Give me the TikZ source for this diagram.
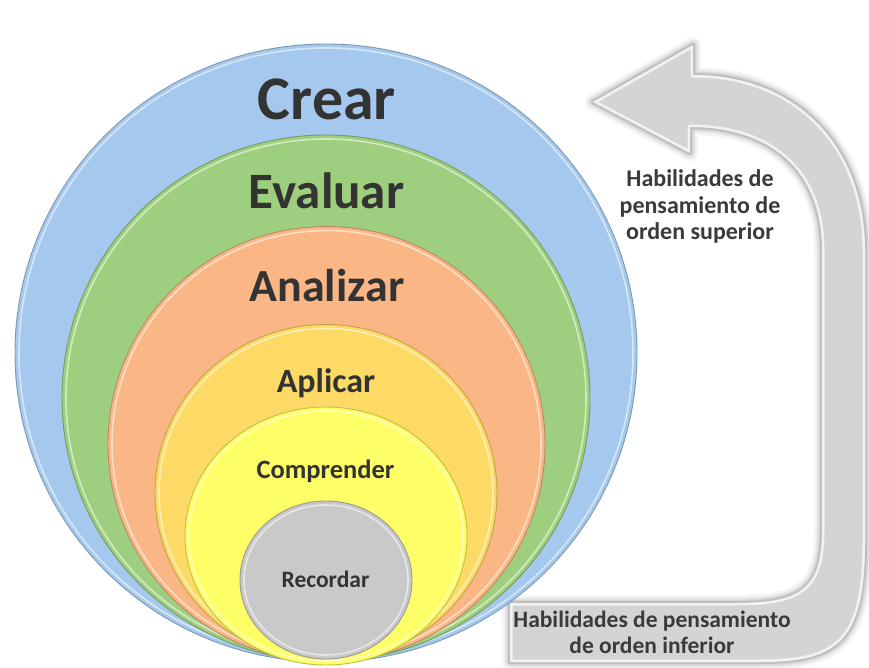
\documentclass[tikz,border=0pt]{standalone}
\usepackage{fontspec}
\setmainfont{Carlito}
\definecolor{cblue}{HTML}{A5C9EE}
\definecolor{cgreen}{HTML}{9DCF7E}
\definecolor{corange}{HTML}{FBB686}
\definecolor{capl}{HTML}{FDDA66}
\definecolor{ccomp}{HTML}{FEFE66}
\definecolor{cgray}{HTML}{C9C9C9}
\definecolor{txt}{HTML}{333333}
\definecolor{sidetxt}{HTML}{3A3A3A}
\definecolor{arrowgray}{HTML}{D4D4D4}
\newcommand\myarrowpath{(593,102) -- (693,45) -- (693,75) .. controls (800,75) and (865,150) .. (865,250) -- (865,540) .. controls (865,640) and (840,662) .. (760,662) -- (510,662) -- (510,603) -- (735,603) .. controls (800,603) and (822,590) .. (822,530) -- (822,250) .. controls (822,170) and (770,127) .. (690,127) -- (690,153) -- cycle}
\begin{document}
\begin{tikzpicture}[x=1pt,y=-1pt,
  lvl/.style={font=\bfseries, text=txt, anchor=base, inner sep=0pt},
  side/.style={font=\bfseries\fontsize{24}{28}\selectfont, text=sidetxt, anchor=base, inner sep=0pt}]
\useasboundingbox (0,0) rectangle (869,668);
% arrow with soft shadow
\foreach \w/\o in {16/0.04,11/0.06,7/0.08,4/0.10}{
  \draw[black, opacity=\o, line width=\w pt, line join=round] \myarrowpath;
}
\fill[arrowgray] \myarrowpath;
\begin{scope}
  \clip \myarrowpath;
  \draw[white, opacity=0.7, line width=5pt, line join=round] \myarrowpath;
\end{scope}
% nested circles
\newcommand\mycircle[4]{%
  \fill[#4] (#1) ellipse [x radius=#2, y radius=#3];
  \draw[#4!75!black, line width=0.9pt] (#1) ellipse [x radius=#2, y radius=#3];
  \draw[white, opacity=0.55, line width=1.6pt] (#1) ellipse [x radius=#2-4, y radius=#3-4];
}
\mycircle{326,353}{311}{309}{cblue}
\mycircle{326,398}{264}{263}{cgreen}
\mycircle{326.5,444}{218.5}{217.5}{corange}
\mycircle{326,493}{171}{168.5}{capl}
\mycircle{326,536}{141}{129}{ccomp}
\mycircle{326,580}{86}{79}{cgray}
% level labels
\node[lvl, font=\bfseries\fontsize{62}{62}\selectfont] (crear) at (327,120) {Crear};
\node[lvl, font=\bfseries\fontsize{51}{51}\selectfont] (evaluar) at (326.5,209) {Evaluar};
\node[lvl, font=\bfseries\fontsize{46}{46}\selectfont] (analizar) at (327,301) {Analizar};
\node[lvl, font=\bfseries\fontsize{34}{34}\selectfont] (aplicar) at (326,392) {Aplicar};
\node[lvl, font=\bfseries\fontsize{26.5}{26.5}\selectfont] (comprender) at (325.5,478) {Comprender};
\node[lvl, font=\bfseries\fontsize{23.5}{23.5}\selectfont] (recordar) at (325.5,587) {Recordar};
% side labels
\node[side] (sup1) at (700,187) {Habilidades de};
\node[side] (sup2) at (700,214) {pensamiento de};
\node[side] (sup3) at (700,240) {orden superior};
\node[side, font=\bfseries\fontsize{23.5}{28}\selectfont] (inf1) at (652,627) {Habilidades de pensamiento};
\node[side, font=\bfseries\fontsize{23.5}{28}\selectfont] (inf2) at (652,653) {de orden inferior};
\end{tikzpicture}
\end{document}
